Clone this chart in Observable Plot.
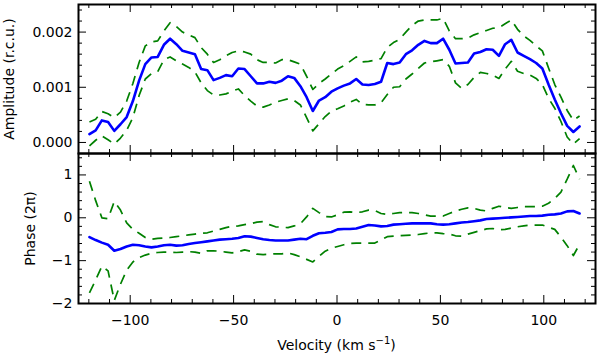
<!DOCTYPE html>
<html>
<head>
<meta charset="utf-8">
<script src="https://cdn.jsdelivr.net/npm/d3@7"></script>
<script src="https://cdn.jsdelivr.net/npm/@observablehq/plot@0.6"></script>
<style>
  body { margin: 0; background: #fff; }
  #chart { position: relative; width: 600px; height: 358px; font-family: "DejaVu Sans", sans-serif; }
  #chart svg { position: absolute; left: 0; overflow: visible; background: transparent; }
</style>
</head>
<body>
<div id="chart"></div>
<script>
// ---------- data ----------
const velocity = [-119.7,-116.7,-113.7,-110.7,-107.7,-104.7,-101.7,-98.7,-95.7,-92.7,
  -89.7,-86.7,-83.7,-80.7,-77.7,-74.7,-71.7,-68.7,-65.7,-62.7,
  -59.7,-56.7,-53.7,-50.7,-47.7,-44.7,-41.7,-38.7,-35.7,-32.7,
  -29.7,-26.7,-23.7,-20.7,-17.7,-14.7,-11.7,-8.7,-5.7,-2.7,
  0.3,3.3,6.3,9.3,12.3,15.3,18.3,21.3,24.3,27.3,
  30.3,33.3,36.3,39.3,42.3,45.3,48.3,51.3,54.3,57.3,
  60.3,63.3,66.3,69.3,72.3,75.3,78.3,81.3,84.3,87.3,
  90.3,93.3,96.3,99.3,102.3,105.3,108.3,111.3,114.3,117.3];

// amplitude in units of 1e-3 r.c.u.
const amplitudeE3 = [0.15,0.22,0.40,0.37,0.21,0.33,0.46,0.75,1.12,1.42,
  1.54,1.55,1.77,1.88,1.78,1.66,1.63,1.60,1.33,1.31,
  1.13,1.17,1.22,1.20,1.34,1.33,1.20,1.07,1.07,1.10,
  1.08,1.12,1.20,1.17,1.02,0.82,0.57,0.76,0.82,0.92,
  0.98,1.03,1.07,1.15,1.05,1.04,1.06,1.10,1.44,1.42,
  1.45,1.60,1.67,1.77,1.84,1.80,1.80,1.88,1.68,1.43,
  1.44,1.45,1.61,1.64,1.69,1.68,1.57,1.78,1.86,1.63,
  1.57,1.51,1.44,1.34,1.05,0.78,0.53,0.30,0.19,0.29];
const amplitudeHiE3 = [0.37,0.42,0.56,0.52,0.45,0.55,0.75,1.07,1.45,1.75,
  1.82,1.84,2.02,2.17,2.10,2.00,1.95,1.90,1.72,1.60,
  1.45,1.50,1.57,1.63,1.66,1.64,1.60,1.50,1.45,1.45,
  1.44,1.50,1.50,1.46,1.42,1.20,0.96,1.07,1.15,1.24,
  1.33,1.39,1.47,1.55,1.46,1.47,1.49,1.52,1.72,1.81,
  1.87,2.00,2.12,2.20,2.22,2.22,2.22,2.25,2.02,1.88,
  1.88,1.89,1.95,1.99,2.03,2.07,2.08,2.15,2.22,2.05,
  1.93,1.85,1.75,1.66,1.35,1.05,0.82,0.58,0.40,0.48];
const amplitudeLoE3 = [-0.06,0.04,0.12,0.05,-0.03,0.08,0.22,0.45,0.85,1.15,
  1.25,1.28,1.50,1.55,1.48,1.42,1.36,1.28,1.08,0.94,
  0.86,0.86,0.88,0.93,0.97,0.85,0.75,0.66,0.64,0.68,
  0.73,0.76,0.79,0.76,0.68,0.45,0.21,0.34,0.47,0.57,
  0.61,0.66,0.73,0.78,0.69,0.68,0.68,0.72,0.87,1.00,
  1.01,1.15,1.24,1.34,1.44,1.46,1.48,1.50,1.38,1.08,
  0.98,1.05,1.18,1.27,1.25,1.22,1.16,1.33,1.47,1.29,
  1.25,1.22,1.16,1.05,0.80,0.62,0.38,0.10,-0.03,0.07];

// phase in units of 2π
const phase = [-0.45,-0.52,-0.58,-0.63,-0.77,-0.73,-0.67,-0.63,-0.64,-0.67,
  -0.69,-0.67,-0.64,-0.63,-0.65,-0.64,-0.61,-0.59,-0.57,-0.55,
  -0.53,-0.51,-0.50,-0.49,-0.47,-0.43,-0.44,-0.47,-0.50,-0.52,
  -0.53,-0.53,-0.53,-0.51,-0.49,-0.50,-0.42,-0.36,-0.35,-0.33,
  -0.27,-0.26,-0.26,-0.25,-0.21,-0.17,-0.18,-0.20,-0.19,-0.16,
  -0.15,-0.14,-0.13,-0.13,-0.13,-0.13,-0.15,-0.16,-0.15,-0.13,
  -0.11,-0.10,-0.08,-0.06,-0.03,-0.02,-0.01,0.00,0.01,0.02,
  0.03,0.04,0.04,0.05,0.07,0.08,0.10,0.15,0.16,0.10];
const phaseHi = [0.85,0.40,0.00,-0.02,0.38,0.18,-0.12,-0.27,-0.36,-0.46,
  -0.50,-0.48,-0.47,-0.46,-0.44,-0.42,-0.40,-0.38,-0.36,-0.35,
  -0.31,-0.27,-0.23,-0.20,-0.19,-0.16,-0.14,-0.10,-0.09,-0.16,
  -0.21,-0.22,-0.23,-0.19,-0.14,0.02,0.22,0.12,0.03,0.02,
  0.07,0.13,0.14,0.12,0.14,0.18,0.17,0.10,0.08,0.10,
  0.12,0.12,0.12,0.10,0.07,0.04,0.04,0.04,0.10,0.16,
  0.20,0.23,0.22,0.18,0.16,0.22,0.27,0.24,0.22,0.24,
  0.26,0.26,0.26,0.27,0.34,0.45,0.60,0.90,1.22,0.90];
const phaseLo = [-1.75,-1.45,-1.13,-1.24,-1.93,-1.55,-1.22,-1.03,-0.93,-0.87,
  -0.83,-0.81,-0.80,-0.80,-0.81,-0.80,-0.79,-0.80,-0.83,-0.77,
  -0.77,-0.78,-0.80,-0.82,-0.79,-0.75,-0.78,-0.85,-0.86,-0.85,
  -0.84,-0.84,-0.82,-0.86,-0.91,-0.97,-1.03,-0.90,-0.78,-0.71,
  -0.67,-0.63,-0.60,-0.59,-0.59,-0.59,-0.59,-0.52,-0.44,-0.43,
  -0.42,-0.41,-0.40,-0.39,-0.37,-0.35,-0.35,-0.37,-0.38,-0.42,
  -0.43,-0.38,-0.34,-0.30,-0.26,-0.25,-0.28,-0.27,-0.24,-0.21,
  -0.19,-0.17,-0.17,-0.17,-0.22,-0.27,-0.45,-0.65,-0.88,-0.62];

// tick values
const xMajor = [-100, -50, 0, 50, 100];
const xMinor = [-120,-110,-90,-80,-70,-60,-40,-30,-20,-10,10,20,30,40,60,70,80,90,110,120];
const ampMajor = [0, 0.001, 0.002];
const ampMinor = [0.0002,0.0004,0.0006,0.0008,0.0012,0.0014,0.0016,0.0018,0.0022,0.0024];
const phaseMajor = [-2, -1, 0, 1];
const phaseMinor = [-1.8,-1.6,-1.4,-1.2,-0.8,-0.6,-0.4,-0.2,0.2,0.4,0.6,0.8,1.2,1.4];

// ---------- build ----------
const ampRows = velocity.map((v, i) => ({v, y: amplitudeE3[i] * 1e-3, hi: amplitudeHiE3[i] * 1e-3, lo: amplitudeLoE3[i] * 1e-3}));
const phaseRows = velocity.map((v, i) => ({v, y: phase[i], hi: phaseHi[i], lo: phaseLo[i]}));

const W = 600, ML = 78, MR = 5;
const FW = W - ML - MR;
const MAJ = 8, MIN = 4;
const minus = d => (d < 0 ? "\u2212" : "") + Math.abs(d);
const font = {fontFamily: "DejaVu Sans", fontSize: "14px", overflow: "visible", background: "transparent"};

function frameTicks(fh, xMaj, xMin, yMaj, yMin) {
  const s = {stroke: "black", strokeWidth: 1};
  return [
    Plot.tickX(xMaj, {...s, insetTop: fh - MAJ}),
    Plot.tickX(xMaj, {...s, insetBottom: fh - MAJ}),
    Plot.tickX(xMin, {...s, insetTop: fh - MIN}),
    Plot.tickX(xMin, {...s, insetBottom: fh - MIN}),
    Plot.tickY(yMaj, {...s, insetRight: FW - MAJ}),
    Plot.tickY(yMaj, {...s, insetLeft: FW - MAJ}),
    Plot.tickY(yMin, {...s, insetRight: FW - MIN}),
    Plot.tickY(yMin, {...s, insetLeft: FW - MIN})
  ];
}

function seriesMarks(rows) {
  const dashed = {x: "v", stroke: "#008000", strokeWidth: 1.7, strokeDasharray: "10,7", strokeLinecap: "butt", clip: true};
  return [
    Plot.line(rows, {...dashed, y: "hi"}),
    Plot.line(rows, {...dashed, y: "lo"}),
    Plot.line(rows, {x: "v", y: "y", stroke: "#0000ff", strokeWidth: 2.6, strokeLinejoin: "round", clip: true})
  ];
}

const topH = 154, topMT = 4, topMB = 1;
const topPlot = Plot.plot({
  width: W, height: topH, marginTop: topMT, marginBottom: topMB, marginLeft: ML, marginRight: MR,
  style: font,
  x: {domain: [-125, 125], axis: null},
  y: {domain: [-0.0002, 0.0025]},
  marks: [
    ...seriesMarks(ampRows),
    ...frameTicks(topH - topMT - topMB, xMajor, xMinor, ampMajor, ampMinor),
    Plot.axisY({ticks: ampMajor, tickSize: 0, tickPadding: 6, tickFormat: d3.format(".3f"), label: null, fontSize: 14}),
    Plot.text(["Amplitude (r.c.u.)"], {frameAnchor: "left", textAnchor: "middle", rotate: -90, dx: -69, fontSize: 14, fill: "black"}),
    Plot.frame({stroke: "black", strokeWidth: 2})
  ]
});

const botH = 208, botMT = 3, botMB = 55;
const botPlot = Plot.plot({
  width: W, height: botH, marginTop: botMT, marginBottom: botMB, marginLeft: ML, marginRight: MR,
  style: font,
  x: {domain: [-125, 125]},
  y: {domain: [-2, 1.5]},
  marks: [
    ...seriesMarks(phaseRows),
    ...frameTicks(botH - botMT - botMB, xMajor, xMinor, phaseMajor, phaseMinor),
    Plot.axisX({ticks: xMajor, tickSize: 0, tickPadding: 12, tickFormat: minus, label: null, fontSize: 14}),
    Plot.axisY({ticks: phaseMajor, tickSize: 0, tickPadding: 6, tickFormat: minus, label: null, fontSize: 14}),
    Plot.text(["Phase (2\u03C0)"], {frameAnchor: "left", textAnchor: "middle", rotate: -90, dx: -48, fontSize: 14, fill: "black"}),
    Plot.frame({stroke: "black", strokeWidth: 2})
  ]
});

const chart = document.getElementById("chart");
topPlot.style.top = "0px";
botPlot.style.top = "150px";
chart.appendChild(topPlot);
chart.appendChild(botPlot);

// x-axis label with superscript
const xs = botPlot.scale("x");
const xl = d3.select(botPlot).append("text")
  .attr("x", (xs.range[0] + xs.range[1]) / 2)
  .attr("y", 200)
  .attr("text-anchor", "middle")
  .attr("font-size", 14)
  .attr("font-family", "DejaVu Sans")
  .attr("fill", "black");
xl.append("tspan").text("Velocity (km s");
xl.append("tspan").attr("dy", -6).attr("font-size", 10).text("\u22121");
xl.append("tspan").attr("dy", 6).text(")");
</script>
</body>
</html>
